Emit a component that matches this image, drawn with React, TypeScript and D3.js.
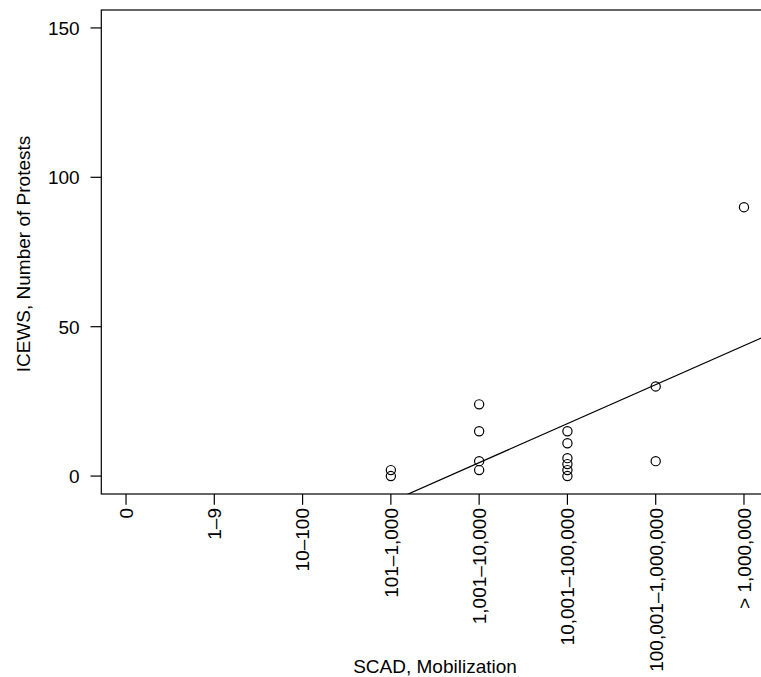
import * as d3 from "d3";

// SCAD mobilization categories (x axis)
const categories = [
  "0",
  "1–9",
  "10–100",
  "101–1,000",
  "1,001–10,000",
  "10,001–100,000",
  "100,001–1,000,000",
  "> 1,000,000",
];

// observed points: category index + ICEWS protest count
const pointCat = [3, 3, 4, 4, 4, 4, 5, 5, 5, 5, 5, 5, 6, 6, 7];
const pointCount = [2, 0, 24, 15, 5, 2, 15, 11, 6, 4, 2, 0, 30, 5, 90];

const yTicks = [0, 50, 100, 150];

const W = 761;
const H = 677;
const FONT = "'Liberation Sans', Arial, Helvetica, sans-serif";

export default function App() {
  const left = 101.3;
  const right = 768.7;
  const top = 10;
  const bottom = 494;

  const x = d3.scaleLinear().domain([-0.28, 7.28]).range([left, right]);
  const y = d3.scaleLinear().domain([-6, 156]).range([bottom, top]);

  const pts = pointCat.map((c, i) => ({ c, v: pointCount[i] }));

  // least squares fit (abline of lm)
  const mx = d3.mean(pts, (d) => d.c) as number;
  const my = d3.mean(pts, (d) => d.v) as number;
  const sxy = d3.sum(pts, (d) => (d.c - mx) * (d.v - my));
  const sxx = d3.sum(pts, (d) => (d.c - mx) * (d.c - mx));
  const slope = sxy / sxx;
  const intercept = my - slope * mx;

  const fitLine = d3
    .line<number>()
    .x((d) => x(d))
    .y((d) => y(intercept + slope * d));

  const tick = 10.8;
  const fs = 19;

  return (
    <svg
      width={W}
      height={H}
      style={{ position: "absolute", left: 0, top: 0, background: "#fff" }}
      fontFamily={FONT}
    >
      <defs>
        <clipPath id="plotArea">
          <rect x={left} y={top} width={right - left} height={bottom - top} />
        </clipPath>
      </defs>

      {/* box */}
      <rect
        x={left}
        y={top}
        width={right - left}
        height={bottom - top}
        fill="none"
        stroke="#000"
        strokeWidth={1.2}
      />

      {/* y axis */}
      {yTicks.map((t) => (
        <g key={t}>
          <line x1={left - tick} x2={left} y1={y(t)} y2={y(t)} stroke="#000" strokeWidth={1.2} />
          <text x={left - 21.6} y={y(t)} dy="0.36em" textAnchor="end" fontSize={fs}>
            {t}
          </text>
        </g>
      ))}

      {/* x axis */}
      {categories.map((c, i) => (
        <g key={c}>
          <line x1={x(i)} x2={x(i)} y1={bottom} y2={bottom + tick} stroke="#000" strokeWidth={1.2} />
          <text
            transform={`translate(${x(i)},${bottom + 14}) rotate(-90)`}
            dy="0.36em"
            textAnchor="end"
            fontSize={fs}
          >
            {c}
          </text>
        </g>
      ))}

      {/* points */}
      {pts.map((d, i) => (
        <circle
          key={i}
          cx={x(d.c)}
          cy={y(d.v)}
          r={4.6}
          fill="none"
          stroke="#000"
          strokeWidth={1.2}
        />
      ))}

      {/* fitted line */}
      <path
        d={fitLine([-0.28, 7.28]) as string}
        fill="none"
        stroke="#000"
        strokeWidth={1.2}
        clipPath="url(#plotArea)"
      />

      {/* axis titles */}
      <text x={(left + right) / 2} y={673} textAnchor="middle" fontSize={fs}>
        SCAD, Mobilization
      </text>
      <text
        transform={`translate(30,${(top + bottom) / 2 + 2}) rotate(-90)`}
        textAnchor="middle"
        fontSize={fs}
      >
        ICEWS, Number of Protests
      </text>
    </svg>
  );
}
